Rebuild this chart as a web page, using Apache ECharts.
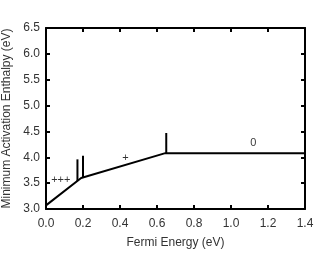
<!DOCTYPE html>
<html><head><meta charset="utf-8">
<script src="https://cdn.jsdelivr.net/npm/echarts@6/dist/echarts.min.js"></script>
<style>html,body{margin:0;padding:0;background:#fff}#c{width:321px;height:253px}</style>
</head><body><div id="c"></div>
<script>
var mainLine = [[0, 3.07], [0.19, 3.6], [0.645, 4.08], [1.4, 4.08]];
var spike1 = [[0.17, 3.54], [0.17, 3.96]];
var spike2 = [[0.20, 3.61], [0.20, 4.03]];
var spike3 = [[0.65, 4.08], [0.65, 4.47]];
var labelPoints = [[0.08, 3.56, '+++'], [0.43, 3.99, '+'], [1.12, 4.27, '0']];
var xTicks = [0.0, 0.2, 0.4, 0.6, 0.8, 1.0, 1.2, 1.4];
var yTicks = [3.0, 3.5, 4.0, 4.5, 5.0, 5.5, 6.0, 6.5];

var font = 'Liberation Sans, Arial, sans-serif';
var txt = '#333';
var lineStyle = {color: '#000', width: 2};
var axisLine = {show: true, onZero: false, lineStyle: {color: '#000', width: 2}};
var tick = {show: true, inside: true, length: 4, lineStyle: {color: '#000', width: 2}};
function lineSeries(d) {
  return {type: 'line', data: d, symbol: 'none', lineStyle: lineStyle, silent: true, animation: false};
}
var chart = echarts.init(document.getElementById('c'), null, {renderer: 'canvas'});
chart.setOption({
  animation: false,
  grid: {left: 46, right: 16, top: 28, bottom: 44, containLabel: false, outerBoundsMode: 'none'},
  xAxis: [{
    type: 'value', min: 0, max: 1.4, interval: 0.2, position: 'bottom',
    axisLine: axisLine, axisTick: tick, splitLine: {show: false},
    axisLabel: {color: txt, fontFamily: font, fontSize: 12, margin: 9,
      formatter: function (v) { return v.toFixed(1); }},
    name: 'Fermi Energy (eV)', nameLocation: 'middle', nameGap: 28,
    nameTextStyle: {color: txt, fontFamily: font, fontSize: 12}
  }, {
    type: 'value', min: 0, max: 1.4, interval: 0.2, position: 'top',
    axisLine: axisLine, axisTick: tick, splitLine: {show: false}, axisLabel: {show: false}
  }],
  yAxis: [{
    type: 'value', min: 3.0, max: 6.5, interval: 0.5, position: 'left',
    axisLine: axisLine, axisTick: tick, splitLine: {show: false},
    axisLabel: {color: txt, fontFamily: font, fontSize: 12, margin: 6,
      formatter: function (v) { return v.toFixed(1); }},
    name: 'Minimum Activation Enthalpy (eV)', nameLocation: 'middle', nameGap: 32,
    nameTextStyle: {color: txt, fontFamily: font, fontSize: 12}
  }, {
    type: 'value', min: 3.0, max: 6.5, interval: 0.5, position: 'right',
    axisLine: axisLine, axisTick: tick, splitLine: {show: false}, axisLabel: {show: false}
  }],
  series: [
    lineSeries(mainLine), lineSeries(spike1), lineSeries(spike2), lineSeries(spike3),
    {type: 'scatter', data: labelPoints, symbolSize: 0, silent: true,
     label: {show: true, position: 'inside', color: '#000', fontFamily: font, fontSize: 11,
       formatter: function (p) { return p.data[2]; }}}
  ]
});
</script></body></html>
